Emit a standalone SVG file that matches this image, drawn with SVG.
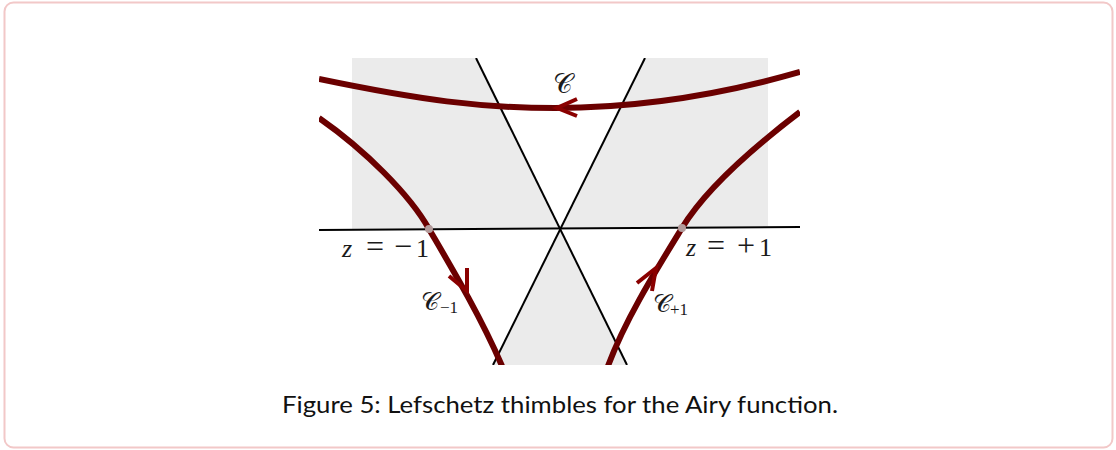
<svg xmlns="http://www.w3.org/2000/svg" width="1116" height="450" viewBox="0 0 1116 450">
<style>
.gray{fill:#ebebeb;stroke:none}
.axis{stroke:#000;stroke-width:2;fill:none}
.curve{stroke:#6b0000;stroke-width:6;fill:none;stroke-linecap:butt}
.arrow{stroke:#8a0000;stroke-width:4;fill:none;stroke-linejoin:miter}
.dot{fill:#b39b9b}
</style>
<defs>
<clipPath id="fig"><rect x="319" y="58" width="481" height="307"/></clipPath>
</defs>
<rect x="4.5" y="2.5" width="1108" height="445" rx="9" fill="#fff" stroke="#f2c8c8" stroke-width="2"/>
<g id="figure" clip-path="url(#fig)">
<g id="regions">
<polygon class="gray" points="352,58 476,58 560,229 352,229"/>
<polygon class="gray" points="645,58 768,58 768,226 560,229"/>
<polygon class="gray" points="560,229 627,365 493,365"/>
</g>
<g id="connectors">
<line class="axis" x1="319" y1="230" x2="800" y2="227"/>
<line class="axis" x1="476" y1="58" x2="627" y2="365"/>
<line class="axis" x1="645" y1="58" x2="493" y2="365"/>
<path id="C" class="curve" d="M319,79 C420,100 480,108 555,108 C640,108 720,95 800,72"/>
<path id="Cm1" class="curve" d="M319,118 C365,150 410,195 429,229 C450,265 480,315 502,366"/>
<path id="Cp1" class="curve" d="M800,112 C750,150 705,190 682,228 C655,272 625,320 608,366"/>
<polyline class="arrow" points="577,99 557,108 577,116"/>
<polyline class="arrow" points="449,276 467,291 467,268"/>
<polyline class="arrow" points="637,283 656,268 652,291"/>
</g>
<g id="saddle-m1"><circle class="dot" cx="429" cy="229" r="4"/></g>
<g id="saddle-p1"><circle class="dot" cx="682" cy="228" r="4"/></g>
</g>
<g id="labels" fill="#1a1a1a">
<text x="553" y="93" font-family="'DejaVu Serif', 'Liberation Serif', serif" font-size="27">𝒞</text>
<text y="257" font-family="'Liberation Serif', 'DejaVu Serif', serif" font-size="26"><tspan x="342" font-style="italic">z</tspan><tspan x="366" font-size="32">=</tspan><tspan x="394" font-size="32">−</tspan><tspan x="416">1</tspan></text>
<text y="256" font-family="'Liberation Serif', 'DejaVu Serif', serif" font-size="26"><tspan x="686" font-style="italic">z</tspan><tspan x="707" font-size="32">=</tspan><tspan x="737" font-size="32">+</tspan><tspan x="759">1</tspan></text>
<text x="421" y="310" font-family="'DejaVu Serif', 'Liberation Serif', serif" font-size="25">𝒞</text>
<text x="440" y="313" font-family="'Liberation Serif', 'DejaVu Serif', serif" font-size="17">−1</text>
<text x="653" y="312" font-family="'DejaVu Serif', 'Liberation Serif', serif" font-size="25">𝒞</text>
<text x="670" y="315" font-family="'Liberation Serif', 'DejaVu Serif', serif" font-size="17">+1</text>
</g>
<text x="282" y="413" font-family="Lato, 'Open Sans', sans-serif" font-size="22.5" fill="#111" textLength="556" lengthAdjust="spacingAndGlyphs">Figure 5:  Lefschetz thimbles for the Airy function.</text>
</svg>
